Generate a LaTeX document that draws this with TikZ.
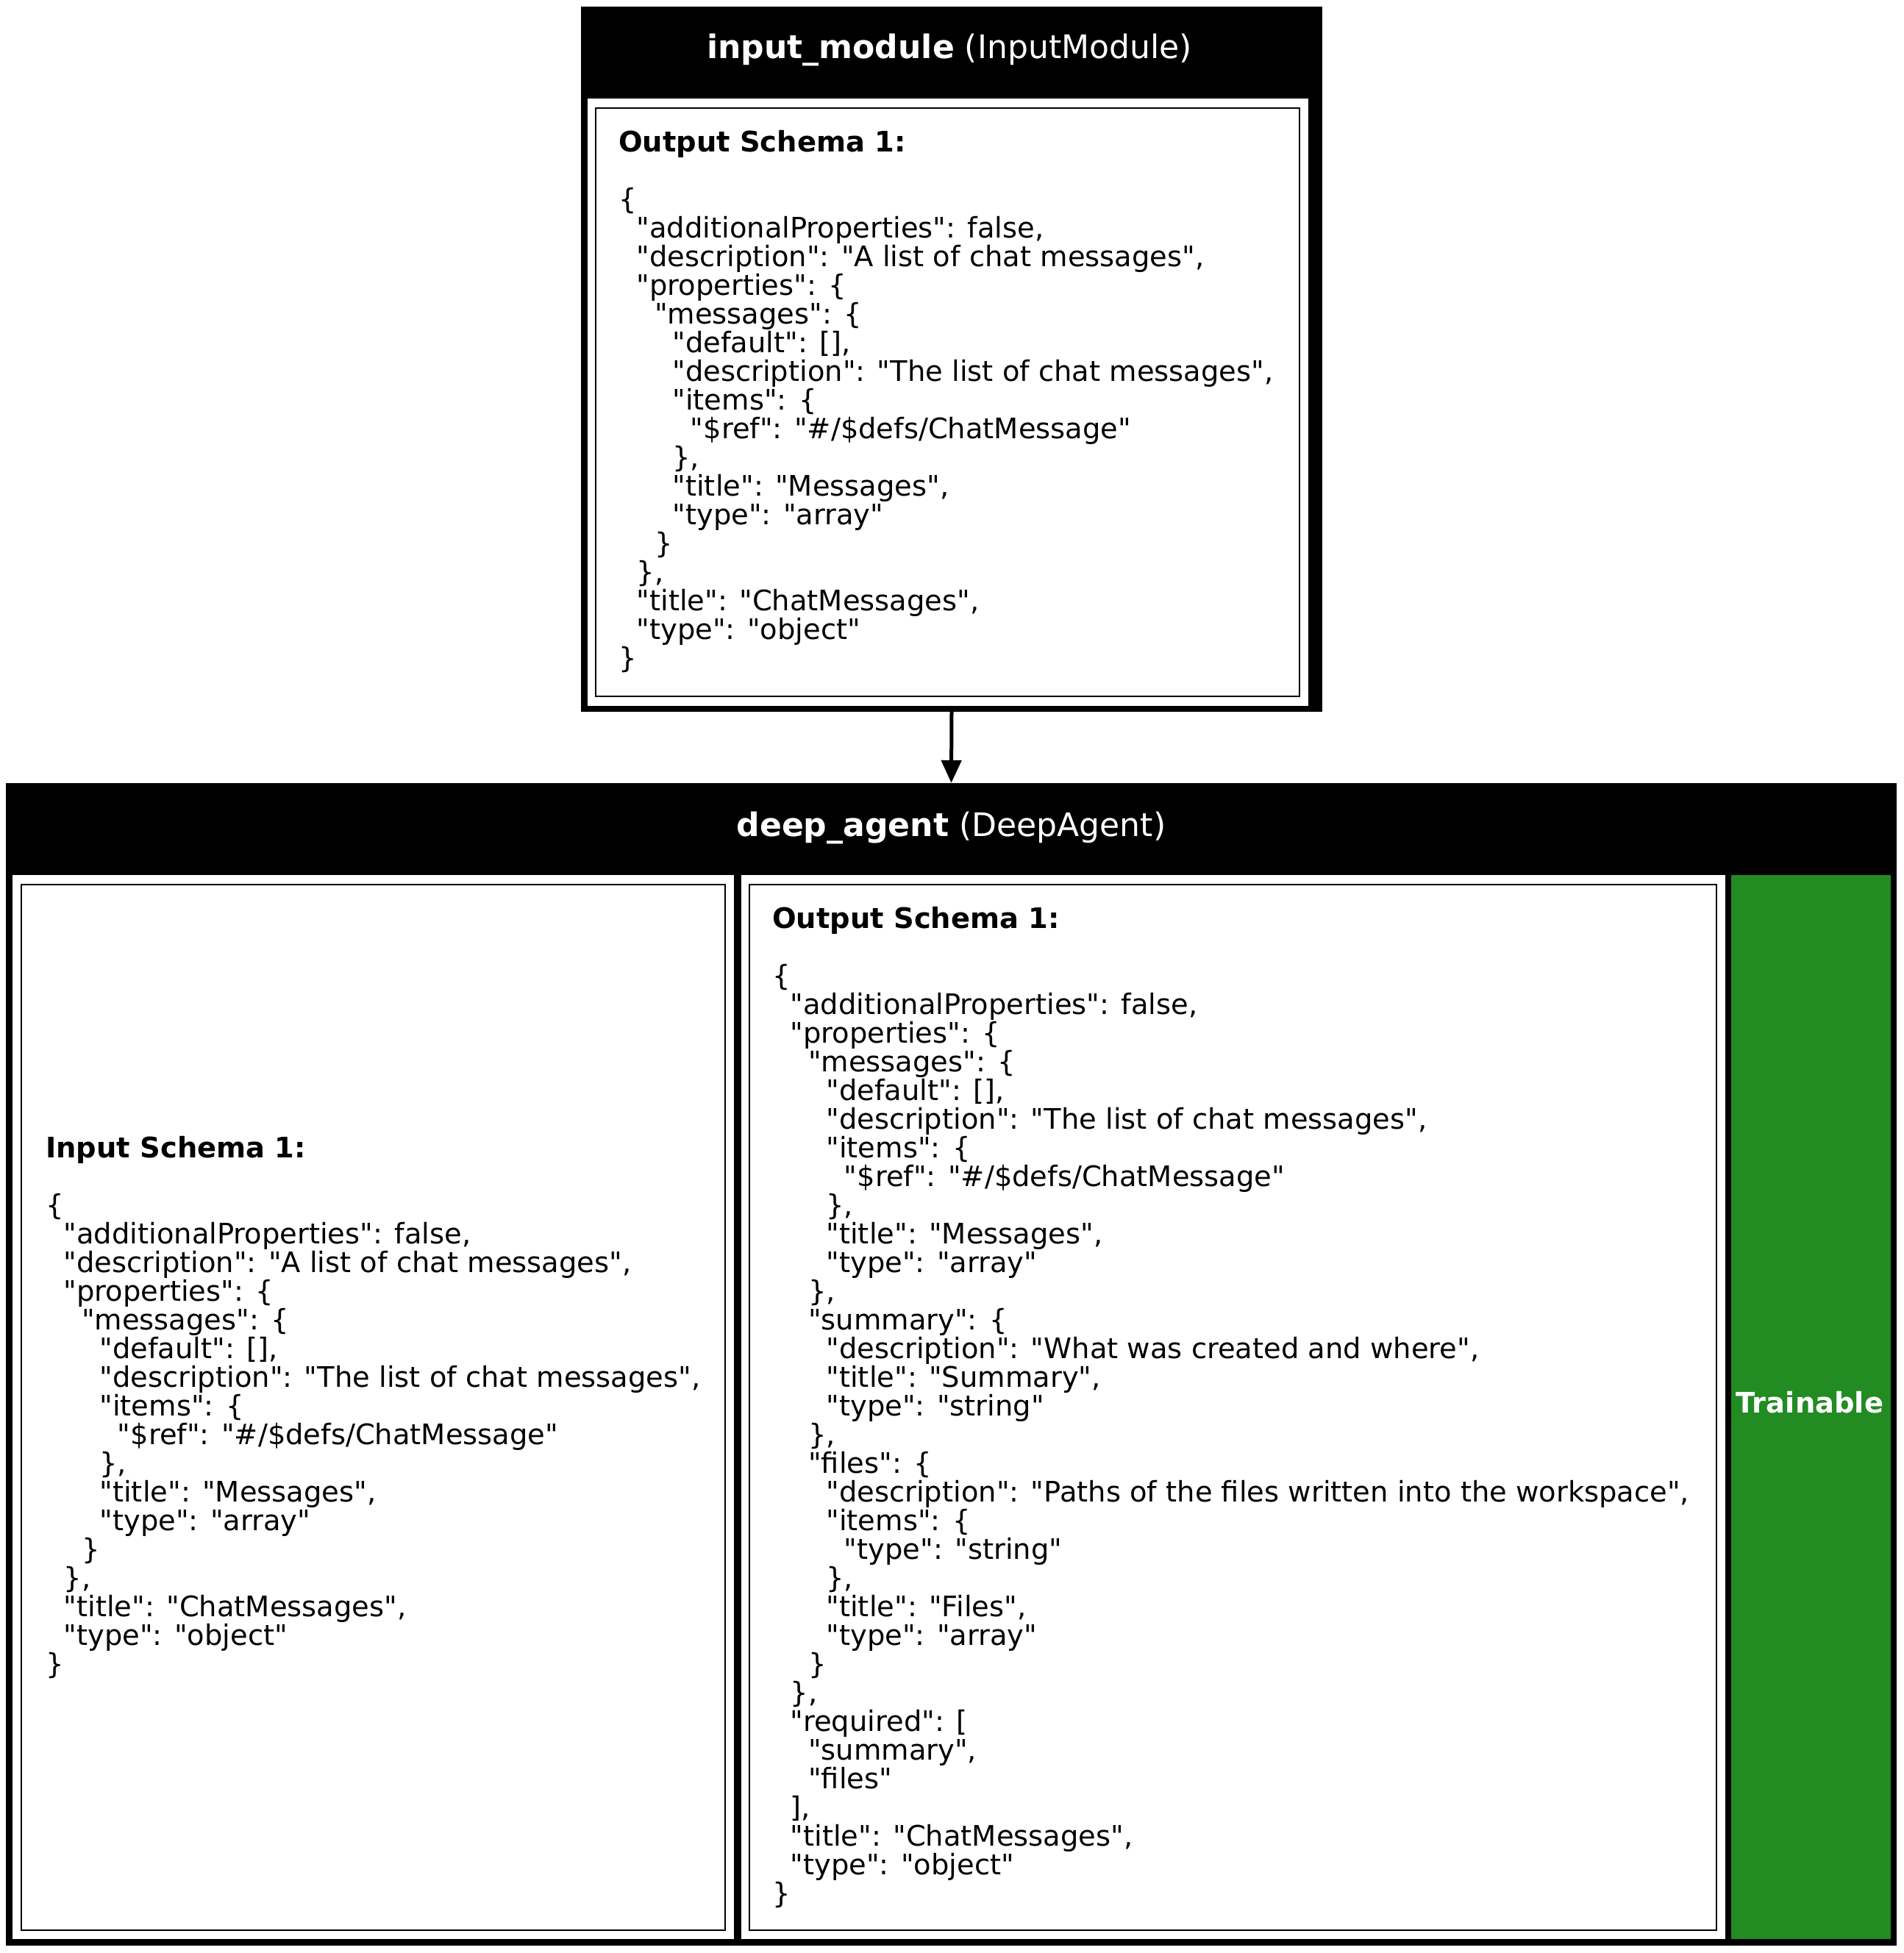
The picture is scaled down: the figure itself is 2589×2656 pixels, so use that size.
\documentclass[tikz,border=0pt]{standalone}
\usepackage{fontspec}
\setmainfont{DejaVu Sans}[Ligatures=TeXOff]
\usetikzlibrary{arrows.meta}
\newcommand{\jin}[1]{\hspace*{#1\fontdimen2\font}}
\begin{document}
\begin{tikzpicture}[x=1pt,y=-1pt,
  body/.style={font=\fontsize{38.45}{39}\selectfont, align=left, anchor=west, inner sep=0pt},
  title/.style={font=\fontsize{44.1}{50}\selectfont, text=white, inner sep=0pt},
  box/.style={fill=black, inner sep=0pt},
  frame/.style={draw=black, line width=2pt},
  cellfill/.style={fill=white},
  edge/.style={line width=5pt, -{Triangle[length=31pt,width=27pt]}}]
\useasboundingbox (0,0) rectangle (2589,2656);

% input_module
\node[box, minimum width=1008pt, minimum height=959pt] (im) at (1294,488.5) {};
\fill[cellfill] (799,134) rectangle (1779,960);
\draw[frame] (810,147) rectangle (1767,947);
\node[title] (imtitle) at (1291,68) {\textbf{input\_module} (InputModule)};
\node[body] (imtext) at (841,546) {\textbf{Output Schema 1:}\\
\mbox{}\\
\{\\
\jin{2}"additionalProperties": false,\\
\jin{2}"description": "A list of chat messages",\\
\jin{2}"properties": \{\\
\jin{4}"messages": \{\\
\jin{6}"default": [],\\
\jin{6}"description": "The list of chat messages",\\
\jin{6}"items": \{\\
\jin{8}"\$ref": "\#/\$defs/ChatMessage"\\
\jin{6}\},\\
\jin{6}"title": "Messages",\\
\jin{6}"type": "array"\\
\jin{4}\}\\
\jin{2}\},\\
\jin{2}"title": "ChatMessages",\\
\jin{2}"type": "object"\\
\}};

% deep_agent
\node[box, minimum width=2571pt, minimum height=1581pt] (da) at (1293.5,1855.5) {};
\node[title] (datitle) at (1293.5,1126) {\textbf{deep\_agent} (DeepAgent)};
\fill[cellfill] (17,1190) rectangle (998,2637);
\draw[frame] (29,1203) rectangle (986,2625);
\fill[cellfill] (1008,1190) rectangle (2346,2637);
\draw[frame] (1019,1203) rectangle (2334,2625);
\node[fill={rgb,255:red,34;green,139;blue,34}, inner sep=0pt, minimum width=217pt, minimum height=1447pt] (train) at (2462.5,1913.5) {};
\node[font=\fontsize{38.45}{39}\selectfont\bfseries, text=white, inner sep=0pt] (trainlabel) at (2461,1907) {Trainable};

\node[body] (intext) at (62,1913.5) {\textbf{Input Schema 1:}\\
\mbox{}\\
\{\\
\jin{2}"additionalProperties": false,\\
\jin{2}"description": "A list of chat messages",\\
\jin{2}"properties": \{\\
\jin{4}"messages": \{\\
\jin{6}"default": [],\\
\jin{6}"description": "The list of chat messages",\\
\jin{6}"items": \{\\
\jin{8}"\$ref": "\#/\$defs/ChatMessage"\\
\jin{6}\},\\
\jin{6}"title": "Messages",\\
\jin{6}"type": "array"\\
\jin{4}\}\\
\jin{2}\},\\
\jin{2}"title": "ChatMessages",\\
\jin{2}"type": "object"\\
\}};

\node[body] (outtext) at (1050,1913.5) {\textbf{Output Schema 1:}\\
\mbox{}\\
\{\\
\jin{2}"additionalProperties": false,\\
\jin{2}"properties": \{\\
\jin{4}"messages": \{\\
\jin{6}"default": [],\\
\jin{6}"description": "The list of chat messages",\\
\jin{6}"items": \{\\
\jin{8}"\$ref": "\#/\$defs/ChatMessage"\\
\jin{6}\},\\
\jin{6}"title": "Messages",\\
\jin{6}"type": "array"\\
\jin{4}\},\\
\jin{4}"summary": \{\\
\jin{6}"description": "What was created and where",\\
\jin{6}"title": "Summary",\\
\jin{6}"type": "string"\\
\jin{4}\},\\
\jin{4}"files": \{\\
\jin{6}"description": "Paths of the files written into the workspace",\\
\jin{6}"items": \{\\
\jin{8}"type": "string"\\
\jin{6}\},\\
\jin{6}"title": "Files",\\
\jin{6}"type": "array"\\
\jin{4}\}\\
\jin{2}\},\\
\jin{2}"required": [\\
\jin{4}"summary",\\
\jin{4}"files"\\
\jin{2}],\\
\jin{2}"title": "ChatMessages",\\
\jin{2}"type": "object"\\
\}};

% edge
\draw[edge] (im.south) -- (da.north);
\end{tikzpicture}
\end{document}
